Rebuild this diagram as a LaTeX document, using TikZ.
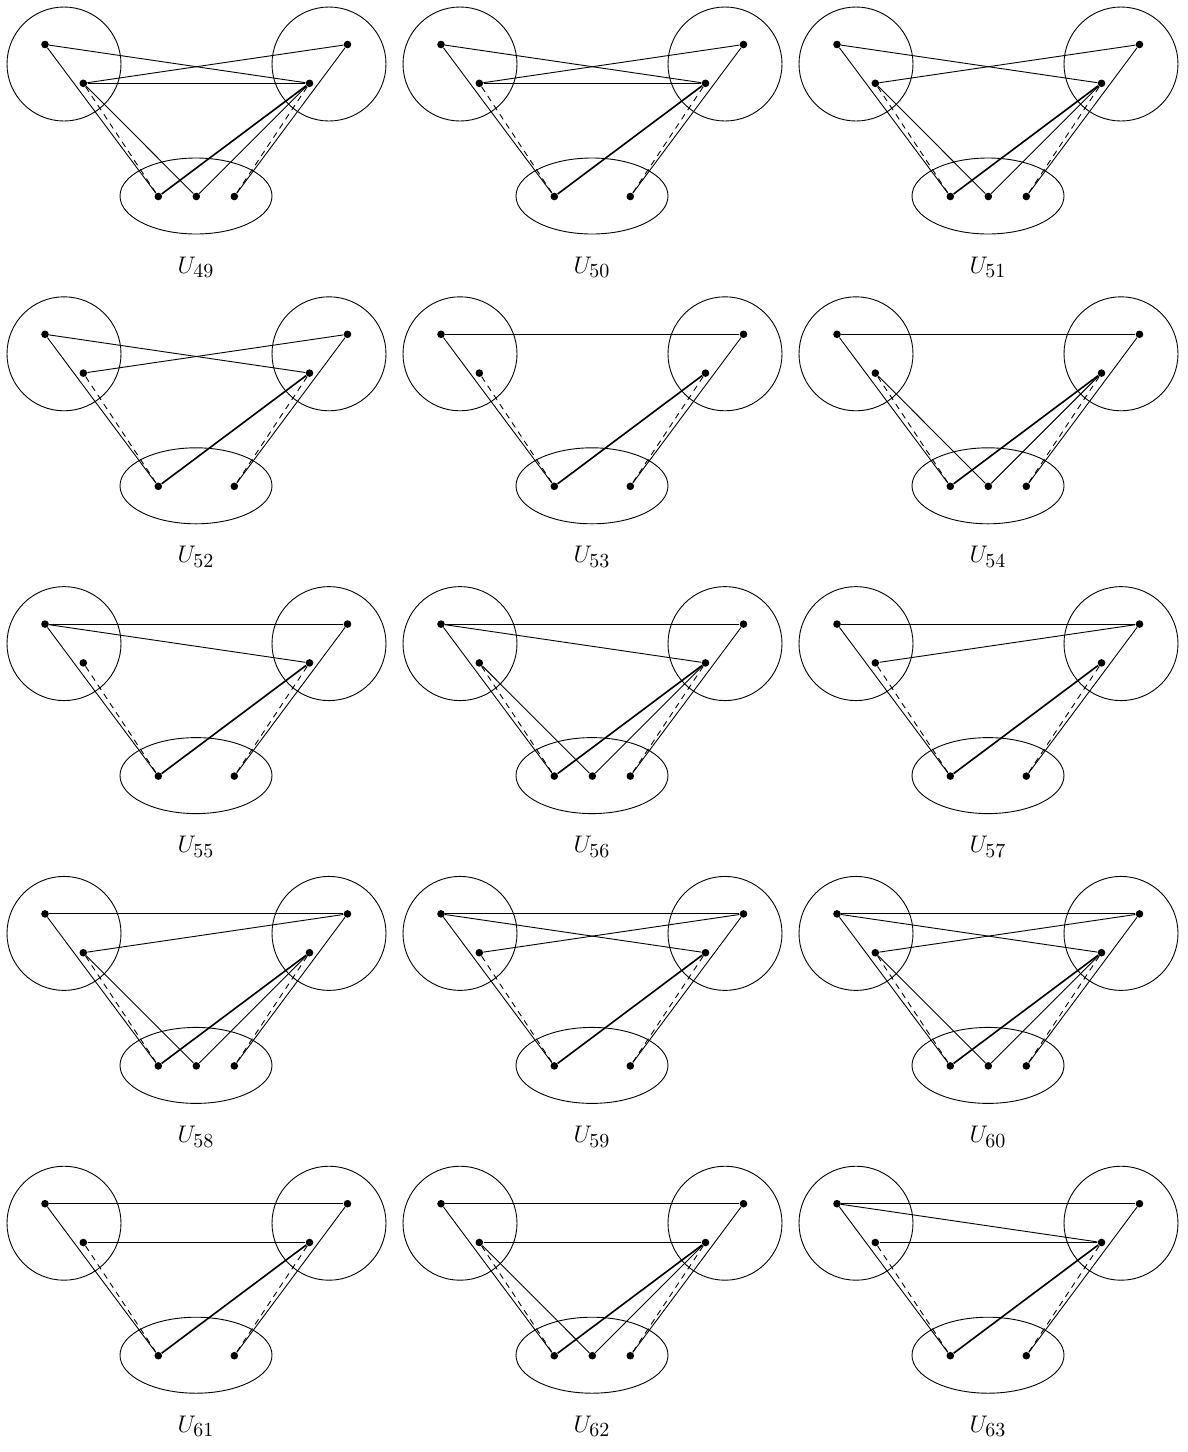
\documentclass[tikz,border=0pt]{standalone}
\usetikzlibrary{shapes.geometric}
\DeclareMathSizes{13}{13}{10}{8}
\tikzset{
  x=0.5pt, y=-0.5pt,
  vdot/.style={circle, fill, inner sep=0pt, minimum size=3.8pt},
  grpc/.style={circle, draw, line width=0.45pt, inner sep=0pt, minimum size=57pt},
  grpe/.style={ellipse, draw, line width=0.45pt, inner sep=0pt, minimum width=76pt, minimum height=38pt},
  sedge/.style={line width=0.45pt},
  dedge/.style={line width=0.45pt, dash pattern=on 3pt off 2.5pt},
  hedge/.style={line width=0.8pt},
  lab/.style={anchor=base, inner sep=0pt, font=\fontsize{13}{15}\selectfont},
}
% #1 id, #2 col, #3 row, #4 has middle bottom vertex (1/0), #5 top edges
\newcommand\mkpanel[5]{%
\begin{scope}[shift={(#2*396,#3*289.8)}]
  \node[grpc] (p#1cl) at (64,64) {};
  \node[grpc] (p#1cr) at (329,64) {};
  \node[grpe] (p#1eb) at (196,196) {};
  \node[vdot] (p#1L1) at (45,44.5) {};
  \node[vdot] (p#1L2) at (83.3,83.3) {};
  \node[vdot] (p#1R1) at (347.5,44.5) {};
  \node[vdot] (p#1R2) at (309.5,83.3) {};
  \node[vdot] (p#1B1) at (158.3,196.5) {};
  \node[vdot] (p#1B3) at (234.3,196.5) {};
  \ifnum#4=1 \node[vdot] (p#1B2) at (196.3,196.5) {};\fi
  \node[lab] (p#1lab) at (196,273) {$U_{#1}$};
  \foreach \a/\b in {#5} \draw[sedge] (p#1\a) -- (p#1\b);
  \draw[sedge] (p#1L1) -- (p#1B1);
  \draw[dedge] (p#1L2) -- (p#1B1);
  \draw[hedge] (p#1R2) -- (p#1B1);
  \draw[sedge] (p#1R1) -- (p#1B3);
  \draw[dedge] (p#1R2) -- (p#1B3);
  \ifnum#4=1
    \draw[sedge] (p#1L2) -- (p#1B2);
    \draw[sedge] (p#1R2) -- (p#1B2);
  \fi
\end{scope}}
\begin{document}
\begin{tikzpicture}
\useasboundingbox (0,0) rectangle (1188,1452);
\mkpanel{49}{0}{0}{1}{L1/R2,L2/R1,L2/R2}
\mkpanel{50}{1}{0}{0}{L1/R2,L2/R1,L2/R2}
\mkpanel{51}{2}{0}{1}{L1/R2,L2/R1}
\mkpanel{52}{0}{1}{0}{L1/R2,L2/R1}
\mkpanel{53}{1}{1}{0}{L1/R1}
\mkpanel{54}{2}{1}{1}{L1/R1}
\mkpanel{55}{0}{2}{0}{L1/R1,L1/R2}
\mkpanel{56}{1}{2}{1}{L1/R1,L1/R2}
\mkpanel{57}{2}{2}{0}{L1/R1,L2/R1}
\mkpanel{58}{0}{3}{1}{L1/R1,L2/R1}
\mkpanel{59}{1}{3}{0}{L1/R1,L1/R2,L2/R1}
\mkpanel{60}{2}{3}{1}{L1/R1,L1/R2,L2/R1}
\mkpanel{61}{0}{4}{0}{L1/R1,L2/R2}
\mkpanel{62}{1}{4}{1}{L1/R1,L2/R2}
\mkpanel{63}{2}{4}{0}{L1/R1,L1/R2,L2/R2}
\end{tikzpicture}
\end{document}
